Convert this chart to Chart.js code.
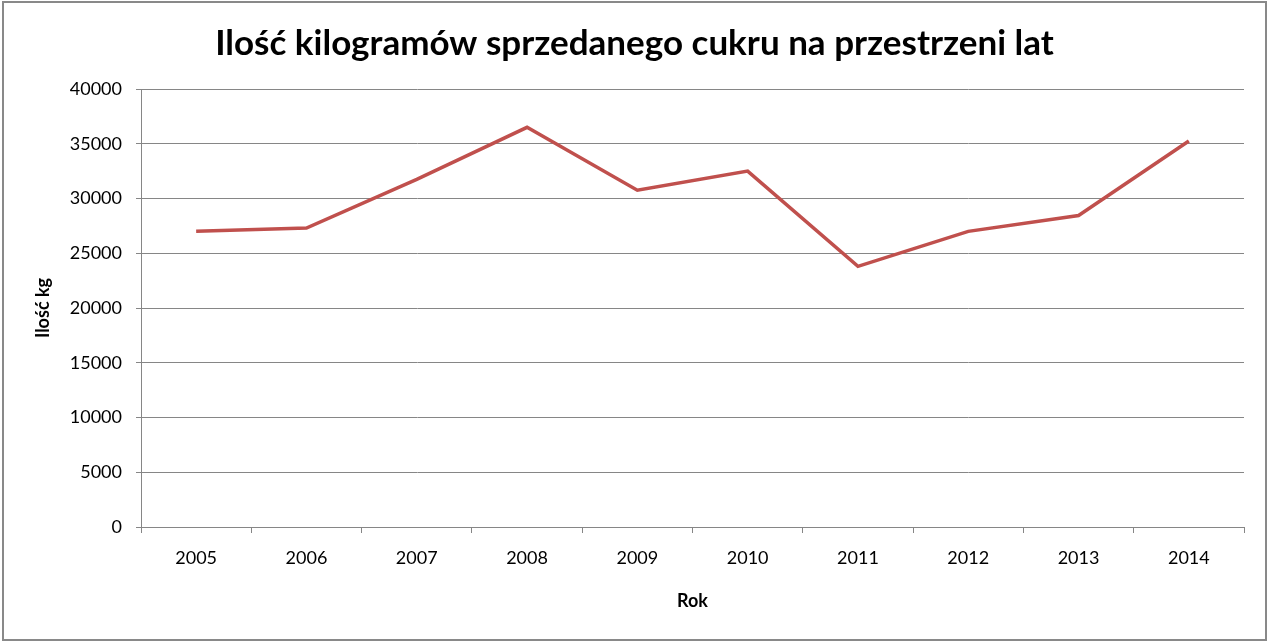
<!DOCTYPE html>
<html>
<head>
<meta charset="utf-8">
<script src="https://cdn.jsdelivr.net/npm/chart.js@4"></script>
<style>
	html, body { margin: 0; padding: 0; background: #fff; }
	#wrap { position: relative; width: 1269px; height: 642px; }
	#chart { position: absolute; left: 0; top: 0; }
	#frame {
		position: absolute; left: 2px; top: 1px; width: 1265px; height: 640px;
		box-sizing: border-box; border: 2px solid #898989; pointer-events: none;
	}
</style>
</head>
<body>
<div id="wrap">
	<canvas id="chart" width="1269" height="642"></canvas>
	<div id="frame"></div>
</div>
<script>
const years = ['2005', '2006', '2007', '2008', '2009', '2010', '2011', '2012', '2013', '2014'];
const sugarKg = [27000, 27300, 31750, 36500, 30750, 32500, 23800, 27000, 28450, 35250];
const yTicks = [0, 5000, 10000, 15000, 20000, 25000, 30000, 35000, 40000];

const FONT = 'Lato, "Open Sans", sans-serif';
const GRID = '#868686';

new Chart(document.getElementById('chart'), {
	type: 'line',
	data: {
		labels: years,
		datasets: [{
			label: 'Ilość kg',
			data: sugarKg,
			borderColor: '#C0504D',
			borderWidth: 3.5,
			pointRadius: 0,
			tension: 0,
			fill: false
		}]
	},
	options: {
		responsive: false,
		animation: false,
		devicePixelRatio: 1,
		// symmetric side padding keeps the title centred on the canvas
		layout: { padding: { left: 25, right: 25, top: 0, bottom: 0 } },
		plugins: {
			legend: { display: false },
			tooltip: { enabled: false },
			title: {
				display: true,
				text: 'Ilość kilogramów sprzedanego cukru na przestrzeni lat',
				color: '#000',
				font: { family: FONT, size: 35, weight: 'bold', lineHeight: 1.2 },
				padding: { top: 23, bottom: 24 }
			}
		},
		scales: {
			x: {
				type: 'category',
				offset: true,
				grid: {
					offset: true,
					drawOnChartArea: false,
					color: GRID,
					tickLength: 6
				},
				border: { color: GRID, width: 1 },
				ticks: {
					color: '#000',
					font: { family: FONT, size: 18 },
					padding: 14,
					maxRotation: 0
				},
				title: {
					display: true,
					text: 'Rok',
					color: '#000',
					font: { family: FONT, size: 18, weight: 'bold', lineHeight: 1.2 },
					padding: { top: 0, bottom: 30 }
				},
				afterFit: (scale) => { scale.height = 115; }
			},
			y: {
				min: 0,
				max: 40000,
				afterBuildTicks: (scale) => { scale.ticks = yTicks.map(v => ({ value: v })); },
				grid: { color: GRID, tickLength: 5 },
				border: { color: GRID, width: 1 },
				ticks: {
					color: '#000',
					font: { family: FONT, size: 18 },
					padding: 14,
					callback: (v) => String(v)
				},
				title: {
					display: true,
					text: 'Ilość kg',
					color: '#000',
					font: { family: FONT, size: 18, weight: 'bold', lineHeight: 1.2 },
					padding: { top: 7, bottom: 0 }
				},
				afterFit: (scale) => { scale.width = 116; }
			}
		}
	}
});
</script>
</body>
</html>
